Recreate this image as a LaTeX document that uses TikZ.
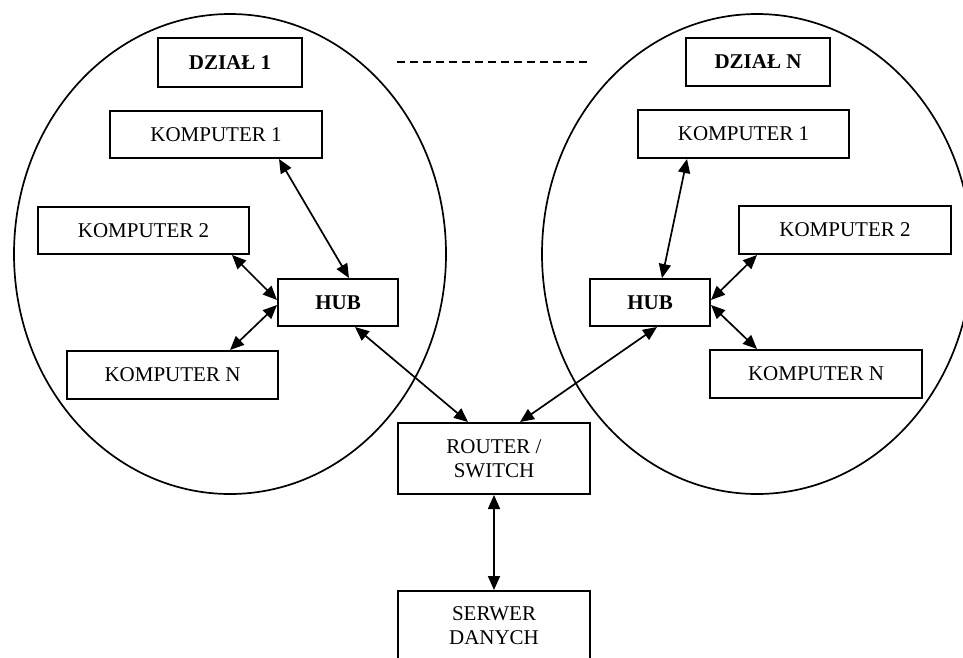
\documentclass[tikz,border=0pt]{standalone}
\usepackage{fontspec}
\setmainfont{Liberation Serif}
\usetikzlibrary{arrows.meta,calc}
\begin{document}
\begin{tikzpicture}[x=1pt,y=-1pt,
  box/.style={draw,line width=2pt,rectangle,inner sep=0pt,align=center,font=\fontsize{21}{24}\selectfont},
  bbox/.style={box,font=\fontsize{21}{24}\selectfont\bfseries},
  link/.style={line width=1.7pt,{Triangle[length=14pt,width=12pt]}-{Triangle[length=14pt,width=12pt]}},
  area/.style={line width=1.7pt}]
\useasboundingbox (0,0) rectangle (963,657);
\clip (0,0) rectangle (963,657);
% groups
\draw[area] (230,254) ellipse [x radius=216pt, y radius=240pt];
\draw[area] (757,254) ellipse [x radius=215pt, y radius=240pt];
% dashed separator
\coordinate (dA) at (397,62);
\coordinate (dB) at (587,62);
\draw[line width=1.6pt,dash pattern=on 8pt off 5pt] (dA) -- (dB);
% left department
\node[bbox,minimum width=144,minimum height=49] (dz1) at (230,62.5) {DZIAŁ 1};
\node[box,minimum width=212,minimum height=47] (k1l) at (216,134.5) {KOMPUTER 1};
\node[box,minimum width=211,minimum height=47] (k2l) at (143.5,230.5) {KOMPUTER 2};
\node[bbox,minimum width=120,minimum height=47] (hubl) at (338,302.5) {HUB};
\node[box,minimum width=211,minimum height=48] (knl) at (172.5,375) {KOMPUTER N};
% right department
\node[bbox,minimum width=144,minimum height=48] (dzn) at (758,62) {DZIAŁ N};
\node[box,minimum width=211,minimum height=48] (k1r) at (743.5,134) {KOMPUTER 1};
\node[box,minimum width=212,minimum height=48] (k2r) at (845,230) {KOMPUTER 2};
\node[bbox,minimum width=120,minimum height=47] (hubr) at (650,302.5) {HUB};
\node[box,minimum width=212,minimum height=48] (knr) at (816,374) {KOMPUTER N};
% center
\node[box,minimum width=192,minimum height=71] (rt) at (494,458.5) {ROUTER /\\SWITCH};
\node[box,minimum width=192,minimum height=70] (sv) at (494,626) {SERWER\\DANYCH};
% links left
\draw[link] ([xshift=63pt]k1l.south) -- ([xshift=11pt]hubl.north);
\draw[link] ([xshift=88.5pt]k2l.south) -- ([yshift=2.5pt]hubl.west);
\draw[link] ([yshift=-2.5pt]hubl.west) -- ([xshift=57.5pt]knl.north);
\draw[link] ([xshift=17pt]hubl.south) -- ([xshift=-26pt]rt.north);
% links right
\draw[link] ([xshift=-56.5pt]k1r.south) -- ([xshift=12pt]hubr.north);
\draw[link] ([xshift=-88pt]k2r.south) -- ([yshift=2.5pt]hubr.east);
\draw[link] ([yshift=-2.5pt]hubr.east) -- ([xshift=-59pt]knr.north);
\draw[link] ([xshift=7pt]hubr.south) -- ([xshift=26pt]rt.north);
% router - server
\draw[link] (rt.south) -- (sv.north);
\end{tikzpicture}
\end{document}
